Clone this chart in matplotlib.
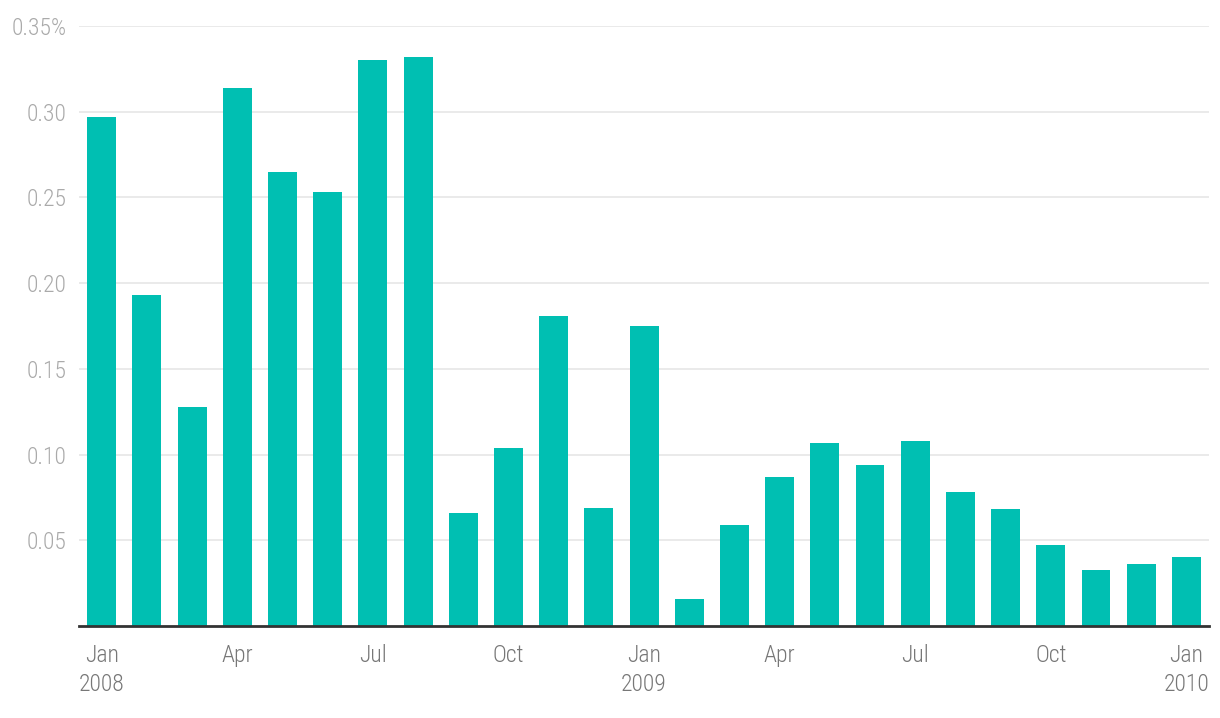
import matplotlib.pyplot as plt
import numpy as np

months = ["Jan\n2008", "", "", "Apr", "", "", "Jul", "", "", "Oct", "", "",
          "Jan\n2009", "", "", "Apr", "", "", "Jul", "", "", "Oct", "", "",
          "Jan\n2010"]
values = [0.297, 0.193, 0.128, 0.314, 0.265, 0.253, 0.330, 0.332, 0.066,
          0.104, 0.181, 0.069, 0.175, 0.016, 0.059, 0.087, 0.107, 0.094,
          0.108, 0.078, 0.068, 0.047, 0.033, 0.036, 0.040]
yticks = [0.05, 0.10, 0.15, 0.20, 0.25, 0.30, 0.35]
ylabels = ["0.05", "0.10", "0.15", "0.20", "0.25", "0.30", "0.35%"]

plt.rcParams["font.family"] = ["Roboto Condensed", "Roboto", "DejaVu Sans"]
plt.rcParams["font.weight"] = "light"

fig = plt.figure(figsize=(12.2, 7.18), dpi=100)
ax = fig.add_axes([0.0648, 0.128, 0.9262, 0.836])

x = np.arange(len(values))
ax.bar(x, values, width=0.64, color="#00bfb2", zorder=2)

ax.set_xlim(-0.5, len(values) - 0.5)
ax.set_ylim(0, 0.35)
ax.set_yticks(yticks)
ax.set_yticklabels(ylabels)
ax.yaxis.grid(True, color="#e6e6e6", linewidth=1.2, zorder=0)

tick_pos = [i for i, m in enumerate(months) if m]
ax.set_xticks(tick_pos)
ax.set_xticklabels([months[i] for i in tick_pos], multialignment="center",
                   linespacing=1.3)

for s in ["top", "right", "left"]:
    ax.spines[s].set_visible(False)
ax.spines["bottom"].set_color("#333333")
ax.spines["bottom"].set_linewidth(2)
ax.spines["bottom"].set_zorder(3)

ax.tick_params(axis="y", length=0, pad=9, labelsize=17, labelcolor="#aaaaaa")
ax.tick_params(axis="x", length=0, pad=13, labelsize=17, labelcolor="#777777")

fig.savefig("out.png", dpi=100)
